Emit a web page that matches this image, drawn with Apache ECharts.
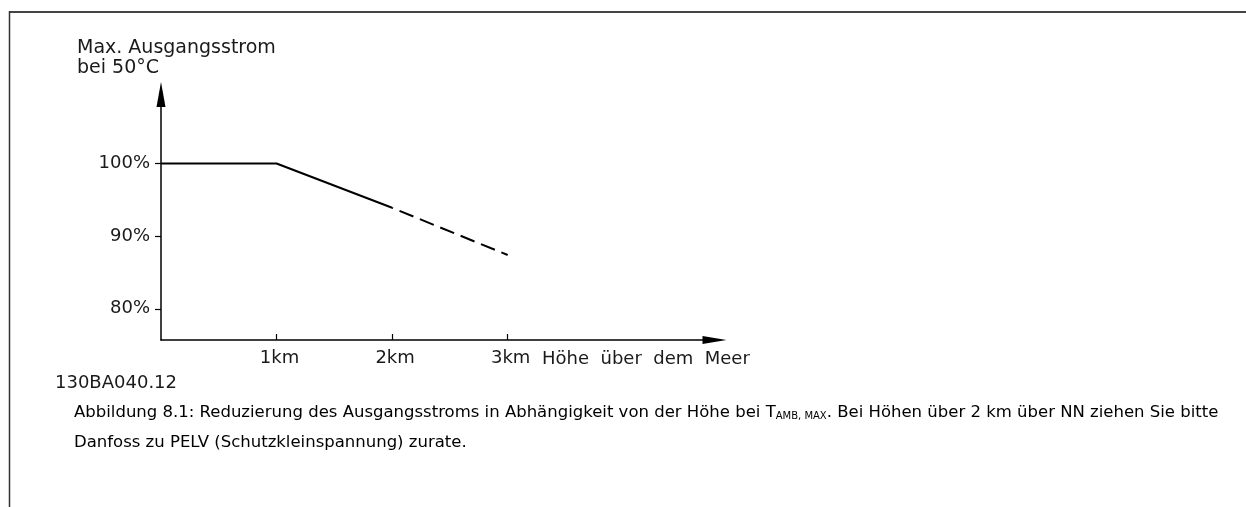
<!DOCTYPE html>
<html>
<head>
<meta charset="utf-8">
<script src="https://cdn.jsdelivr.net/npm/echarts@6/dist/echarts.min.js"></script>
<style>
html,body{margin:0;padding:0;background:#fff;}
#chart{width:1246px;height:507px;}
</style>
</head>
<body>
<div id="chart"></div>
<script>
// ---- data ----
const altitudeKm = [0, 1, 2, 3];
const maxCurrentPct = [100, 100, 93.9, 87.4];
const xTickValues = [1, 2, 3];
const yTickValues = [80, 90, 100];
const yAxisTitle = 'Max. Ausgangsstrom\nbei 50°C';
const xAxisTitle = 'Höhe  über  dem  Meer';
const drawingCode = '130BA040.12';
const captionLine1a = 'Abbildung 8.1: Reduzierung des Ausgangsstroms in Abhängigkeit von der Höhe bei T';
const captionSub = 'AMB, MAX';
const captionLine1b = '. Bei Höhen über 2 km über NN ziehen Sie bitte';
const captionLine2 = 'Danfoss zu PELV (Schutzkleinspannung) zurate.';

const solidPts = altitudeKm.slice(0, 3).map((x, i) => [x, maxCurrentPct[i]]);
const dashedPts = altitudeKm.slice(2).map((x, i) => [x, maxCurrentPct[i + 2]]);

const cadFont = 'DejaVu Sans';
const capFont = "'DejaVu Sans', sans-serif";
const ink = '#1a1a1a';

const chart = echarts.init(document.getElementById('chart'), null, {renderer: 'canvas'});
chart.setOption({
  animation: false,
  backgroundColor: '#ffffff',
  title: [
    {
      text: yAxisTitle, left: 77, top: 38, padding: 0,
      textStyle: {fontFamily: cadFont, fontSize: 19, fontWeight: 'normal', color: ink, lineHeight: 20}
    },
    {
      text: drawingCode, left: 55, top: 374, padding: 0,
      textStyle: {fontFamily: cadFont, fontSize: 18, fontWeight: 'normal', color: ink, lineHeight: 18}
    },
    {
      text: '{m|' + captionLine1a + '}{s|' + captionSub + '}{m|' + captionLine1b + '}\n{m|' + captionLine2 + '}',
      left: 74, top: 398, padding: 0,
      textStyle: {
        fontFamily: capFont, fontSize: 16.5, fontWeight: 'normal', color: '#000', lineHeight: 30,
        rich: {
          m: {fontFamily: capFont, fontSize: 16.5, color: '#000', lineHeight: 30},
          s: {fontFamily: capFont, fontSize: 10, color: '#000', lineHeight: 14, padding: [13, 0, 0, 0], verticalAlign: 'top'}
        }
      }
    }
  ],
  grid: {left: 161, top: 94.5, right: 531.5, bottom: 167, containLabel: false, outerBoundsMode: 'none'},
  xAxis: {
    type: 'value', min: 0, max: 4.79,
    name: xAxisTitle, nameLocation: 'end', nameGap: -172.5,
    nameTextStyle: {fontFamily: cadFont, fontSize: 18, color: ink, align: 'left', verticalAlign: 'top', padding: [10, 0, 0, 0]},
    axisLine: {show: true, lineStyle: {color: '#000', width: 1.5}, symbol: ['none', 'triangle'], symbolSize: [8, 24]},
    axisTick: {show: true, inside: true, length: 6, customValues: xTickValues, lineStyle: {color: '#000', width: 1.2}},
    axisLabel: {show: true, customValues: xTickValues, formatter: '{value}km', margin: 9,
      fontFamily: cadFont, fontSize: 18, color: ink, padding: [0, 0, 0, 6]},
    splitLine: {show: false}
  },
  yAxis: {
    type: 'value', min: 75.7, max: 109.5,
    axisLine: {show: true, lineStyle: {color: '#000', width: 1.5}, symbol: ['none', 'triangle'], symbolSize: [9, 25]},
    axisTick: {show: true, inside: false, length: 6, customValues: yTickValues, lineStyle: {color: '#000', width: 1.2}},
    axisLabel: {show: true, customValues: yTickValues, formatter: '{value}%', margin: 11,
      fontFamily: cadFont, fontSize: 18, color: ink},
    splitLine: {show: false}
  },
  graphic: [
    {type: 'line', shape: {x1: 9.5, y1: 12, x2: 1246, y2: 12}, style: {stroke: '#444', lineWidth: 2}, silent: true},
    {type: 'line', shape: {x1: 9.5, y1: 11, x2: 9.5, y2: 507}, style: {stroke: '#333', lineWidth: 1.5}, silent: true}
  ],
  series: [
    {
      type: 'line', data: solidPts, showSymbol: false, symbol: 'none',
      lineStyle: {color: '#000', width: 2, type: 'solid'}
    },
    {
      type: 'line', data: dashedPts, showSymbol: false, symbol: 'none',
      lineStyle: {color: '#000', width: 2, type: [15, 7], dashOffset: -8}
    }
  ]
});
</script>
</body>
</html>
